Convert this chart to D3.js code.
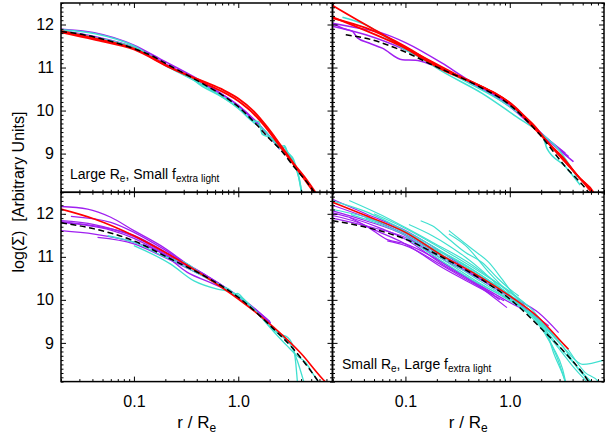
<!DOCTYPE html>
<html>
<head>
<meta charset="utf-8">
<script src="https://cdn.jsdelivr.net/npm/d3@7/dist/d3.min.js"></script>
<style>
  body { margin: 0; background: #fff; }
  svg { display: block; }
  text { font-family: "Liberation Sans", Arial, Helvetica, sans-serif; fill: #000; }
</style>
</head>
<body>
<svg id="chart" width="605" height="436"></svg>
<script>
// ---- Axis ticks and labels ----
const xMajor = [0.1, 1.0];
const xMajorLabels = ["0.1", "1.0"];
const xMinor = [0.02, 0.03, 0.04, 0.05, 0.06, 0.07, 0.08, 0.09,
                0.2, 0.3, 0.4, 0.5, 0.6, 0.7, 0.8, 0.9,
                2, 3, 4, 5, 6, 7, 8];
const yMajor = [9, 10, 11, 12];
const yMajorLabels = ["9", "10", "11", "12"];
const xDomain = [0.02, 8];
const yDomain = [8.1, 12.5];

// ---- Profiles: [r / Re, log(Sigma)] ----
// Top left: large Re, small extra-light fraction
const tlDashed = [[0.02,11.84],[0.03,11.78],[0.0417,11.71],[0.06,11.61],[0.1,11.44],[0.15,11.27],[0.2,11.10],[0.3,10.87],[0.5,10.57],[0.7,10.36],[1.0,10.09],[1.5,9.67],[2.0,9.34],[2.54,9.09],[3.4,8.70],[4.5,8.35],[5.29,8.12],[6.12,7.92]];
const tlRed = [
  [[0.02,11.82],[0.0417,11.65],[0.1,11.42],[0.225,10.99],[0.469,10.67],[0.729,10.47],[1.0,10.28],[1.41,9.98],[1.89,9.62],[2.54,9.20],[3.4,8.77],[4.56,8.38],[5.48,8.10],[6.0,7.95]],
  [[0.02,11.85],[0.0417,11.68],[0.1,11.44],[0.225,11.0],[0.469,10.64],[1.0,10.22],[1.41,9.92],[1.89,9.57],[2.54,9.15],[3.4,8.74],[5.48,8.05]]
];
const tlPurple = [
  [[0.02,11.89],[0.0417,11.81],[0.1,11.52],[0.181,11.19],[0.377,10.78],[0.63,10.45],[1.0,10.11],[1.63,9.62],[2.36,9.22]],
  [[0.02,11.86],[0.0417,11.72],[0.1,11.47],[0.225,11.02],[0.5,10.57],[1.0,10.12],[1.76,9.55],[2.5,9.10]]
];
const tlCyan = [
  [[0.02,11.88],[0.0417,11.79],[0.1,11.50],[0.181,11.12],[0.377,10.70],[0.469,10.54],[0.63,10.38],[1.0,10.07],[1.41,9.76],[1.57,9.74],[1.70,9.45],[1.89,9.40],[2.19,9.32],[2.54,9.17],[2.77,9.18],[2.94,9.05],[3.4,8.85],[3.8,8.46],[4.1,8.05]],
  [[0.02,11.86],[0.0417,11.70],[0.1,11.46],[0.225,10.98],[0.469,10.58],[1.0,10.05],[1.41,9.72],[1.57,9.65],[1.76,9.55],[2.19,9.28],[2.54,9.12],[2.77,9.14],[3.0,9.0],[3.4,8.80],[3.8,8.45],[4.1,8.0]]
];

// Top right
const trDashed = [[0.0268,11.76],[0.0417,11.68],[0.1,11.36],[0.181,11.06],[0.469,10.60],[1.0,10.13],[1.89,9.47],[3.4,8.70],[5.68,8.10],[6.5,7.9]];
const trRed = [
  [[0.02,12.44],[0.036,12.08],[0.0559,11.82],[0.1,11.45],[0.225,10.95],[0.469,10.62],[0.729,10.40],[1.13,10.08],[1.63,9.68],[2.19,9.32],[3.4,8.85],[4.56,8.46],[5.3,8.30],[6.12,8.12],[6.6,7.95]],
  [[0.02,12.15],[0.0417,11.92],[0.1,11.49],[0.225,10.97],[0.543,10.55],[0.844,10.30],[1.22,9.98],[1.76,9.62],[2.19,9.33],[3.4,8.82],[4.73,8.42],[6.34,8.10],[6.8,7.95]],
  [[0.02,12.17],[0.1,11.45],[0.3,10.85],[0.63,10.47],[1.0,10.18],[1.52,9.72],[2.19,9.32],[3.4,8.80],[5.0,8.35],[6.34,8.05]]
];
const trPurple = [
  [[0.02,12.03],[0.0311,11.94],[0.06,11.80],[0.1,11.58],[0.225,11.10],[0.377,10.75],[0.63,10.44],[1.0,10.13],[1.89,9.51],[3.4,9.01]],
  [[0.02,12.02],[0.0268,11.89],[0.0311,11.84],[0.0347,11.69],[0.0448,11.57],[0.06,11.45],[0.0934,11.18],[0.125,11.17],[0.181,11.06],[0.377,10.71],[1.0,10.09],[2.19,9.36],[4.08,8.81]],
  [[0.02,11.96],[0.0417,11.76],[0.1,11.41],[0.225,10.99],[0.543,10.52],[1.0,10.13],[2.36,9.32],[3.66,8.93]]
];
const trCyan = [
  [[0.0249,12.17],[0.0417,11.99],[0.06,11.76],[0.1,11.41],[0.181,11.10],[0.377,10.68],[1.0,10.09],[1.89,9.51],[2.11,9.36],[2.27,9.12],[3.4,8.70],[4.73,8.27]],
  [[0.1,11.45],[0.225,10.91],[0.543,10.40],[1.22,9.82],[1.89,9.51],[2.94,9.09],[4.4,8.46]]
];

// Bottom left
const blDashed = [[0.02,11.79],[0.0417,11.65],[0.1,11.37],[0.225,10.95],[0.469,10.56],[1.0,10.06],[2.19,9.32],[3.4,8.85],[5.68,8.15],[6.5,7.95]];
const blRed = [
  [[0.02,12.11],[0.0417,11.88],[0.1,11.49],[0.225,11.03],[0.469,10.56],[1.0,10.02],[2.19,9.36],[3.94,8.77],[6.8,8.10],[7.5,8.0]]
];
const blPurple = [
  [[0.02,12.17],[0.036,12.11],[0.06,11.92],[0.1,11.61],[0.181,11.26],[0.377,10.72],[1.0,10.09],[2.04,9.47]],
  [[0.0249,11.94],[0.06,11.80],[0.1,11.57],[0.181,11.22],[0.377,10.72],[1.0,10.06],[2.04,9.45]],
  [[0.02,11.84],[0.0417,11.75],[0.1,11.47],[0.225,11.0],[0.469,10.60],[1.0,10.08],[2.0,9.50]],
  [[0.02,11.80],[0.06,11.62],[0.1,11.43],[0.225,10.97],[0.469,10.58],[1.0,10.07],[1.9,9.52]],
  [[0.02,11.61],[0.0417,11.53],[0.1,11.34],[0.181,11.10],[0.325,10.64],[0.543,10.40],[1.0,10.09],[1.89,9.55]],
  [[0.0448,11.45],[0.1,11.30],[0.181,11.03],[0.377,10.66],[0.63,10.38],[1.0,10.06],[2.0,9.48]],
  [[0.02,11.82],[0.0417,11.72],[0.1,11.50],[0.225,11.04],[0.469,10.60],[1.0,10.07],[2.04,9.47]]
];
const blCyan = [
  [[0.0559,11.49],[0.1,11.34],[0.225,10.95],[0.302,10.88],[0.469,10.56],[0.729,10.30],[0.844,10.22],[0.9,10.12],[0.98,10.15],[1.13,10.02],[1.63,9.62],[2.19,9.30],[2.54,9.20],[3.0,9.12],[3.28,8.98],[3.53,8.60],[3.7,8.05]],
  [[0.1,11.26],[0.225,10.83],[0.377,10.44],[0.63,10.25],[0.844,10.19],[1.0,10.08],[1.52,9.70],[2.19,9.30],[2.77,9.10],[3.28,8.90],[3.66,8.60],[4.3,8.05]],
  [[0.181,11.06],[0.377,10.66],[0.729,10.28],[0.9,10.16],[1.0,10.10],[1.41,9.78],[2.19,9.26],[2.94,8.93],[3.66,8.70],[4.4,8.55],[5.3,8.25],[6.0,8.05]]
];

// Bottom right: small Re, large extra-light fraction
const brDashed = [[0.02,11.84],[0.0417,11.69],[0.1,11.41],[0.225,10.99],[0.469,10.56],[1.0,10.02],[2.19,9.24],[3.4,8.77],[5.68,8.10],[6.2,7.95]];
const brRed = [
  [[0.02,12.27],[0.0417,11.96],[0.1,11.57],[0.225,11.03],[0.469,10.60],[1.0,10.09],[1.89,9.59],[3.4,8.93],[3.66,8.85]]
];
const brPurple = [
  [[0.02,12.34],[0.0417,12.0],[0.1,11.61],[0.225,11.10],[0.543,10.48],[1.0,10.09],[1.89,9.70],[2.94,9.24]],
  [[0.02,12.07],[0.0417,11.84],[0.1,11.49],[0.225,10.87],[0.469,10.40],[1.0,9.94],[1.63,9.67],[2.36,9.40]],
  [[0.02,12.02],[0.0289,11.92],[0.06,11.65],[0.1,11.41],[0.225,10.83],[0.469,10.37],[0.94,9.82]],
  [[0.02,11.96],[0.0417,11.72],[0.067,11.40],[0.1,11.30],[0.225,10.87],[0.5,10.35],[0.8,10.0]],
  [[0.0289,11.92],[0.0482,11.65],[0.1,11.30],[0.225,10.75],[0.469,10.33],[0.88,9.98]],
  [[0.02,11.90],[0.0417,11.72],[0.1,11.45],[0.225,10.95],[0.5,10.50],[1.0,10.05],[2.0,9.50],[2.6,9.2]],
  [[0.067,11.37],[0.1,11.26],[0.225,10.80],[0.4,10.45],[0.7,10.12]],
  [[0.02,12.20],[0.0417,11.92],[0.1,11.52],[0.225,11.0],[0.469,10.55],[1.0,10.05],[1.63,9.70]]
];
const brCyan = [
  [[0.0289,12.31],[0.06,11.96],[0.1,11.68],[0.181,11.34],[0.377,10.91],[1.0,10.17],[1.63,9.78],[2.19,9.40],[3.4,8.93],[5.29,8.31],[7.08,8.1],[7.5,7.95]],
  [[0.108,11.75],[0.181,11.49],[0.261,11.26],[0.377,10.99],[0.543,10.68],[0.8,10.3],[1.0,10.1]],
  [[0.14,11.84],[0.181,11.72],[0.261,11.41],[0.377,11.10],[0.543,10.87],[0.784,10.48],[1.0,10.25],[1.22,10.09]],
  [[0.261,11.61],[0.436,11.18],[0.63,10.87],[0.844,10.48],[1.05,10.17],[1.4,9.85]],
  [[0.261,11.53],[0.377,11.26],[0.63,10.64],[0.784,10.40],[1.0,10.15]],
  [[0.02,12.30],[0.0417,12.05],[0.1,11.60],[0.225,11.12],[0.469,10.62],[1.0,10.12],[1.89,9.55],[2.19,9.35],[2.6,8.8],[3.4,8.1],[3.6,7.9]],
  [[0.02,12.10],[0.06,11.80],[0.1,11.55],[0.225,11.0],[0.469,10.50],[1.0,10.0],[1.89,9.5],[3.4,8.85],[4.5,8.55],[5.0,8.50],[8.0,8.60]],
  [[0.03,11.98],[0.1,11.50],[0.225,10.95],[0.469,10.45],[1.0,9.98],[1.63,9.65],[2.19,9.30],[3.4,8.75],[5.5,8.2],[7.0,7.95]],
  [[0.0417,11.90],[0.1,11.58],[0.225,11.05],[0.5,10.55],[1.0,10.05],[2.0,9.45],[3.16,8.95],[4.5,8.40],[6.5,8.0]],
  [[0.1,11.45],[0.225,10.90],[0.469,10.42],[0.7,10.2],[1.0,10.0],[1.6,9.65],[2.2,9.25],[3.0,8.85],[4.2,8.40],[6.0,8.0]],
  [[0.181,11.20],[0.377,10.80],[0.63,10.45],[1.0,10.10],[1.4,9.75],[2.19,9.20],[2.8,8.70],[3.4,8.1]],
  [[0.15,11.30],[0.3,10.95],[0.5,10.62],[1.0,10.1],[2.0,9.4],[2.6,8.9],[3.2,8.4],[3.5,8.0]],
  [[0.05,12.0],[0.1,11.66],[0.3,11.0],[0.6,10.55],[1.0,10.2],[1.5,9.85]]
];

// ---- Layout ----
const svg = d3.select("#chart");
const colX = [61, 332.5, 604];
const rowY = [3, 192.3, 381.6];
const colors = { red: "#ff0000", purple: "#a020f0", cyan: "#40e0d0" };

const panels = [
  { col: 0, row: 0, dashed: tlDashed, red: tlRed, purple: tlPurple, cyan: tlCyan, lw: 1.6 },
  { col: 1, row: 0, dashed: trDashed, red: trRed, purple: trPurple, cyan: trCyan, lw: 1.5 },
  { col: 0, row: 1, dashed: blDashed, red: blRed, purple: blPurple, cyan: blCyan, lw: 1.3 },
  { col: 1, row: 1, dashed: brDashed, red: brRed, purple: brPurple, cyan: brCyan, lw: 1.2 }
];

panels.forEach((p, i) => {
  const x0 = colX[p.col], x1 = colX[p.col + 1];
  const y0 = rowY[p.row], y1 = rowY[p.row + 1];
  const x = d3.scaleLog().domain(xDomain).range([x0, x1]);
  const y = d3.scaleLinear().domain(yDomain).range([y1, y0]);
  const line = d3.line().x(d => x(d[0])).y(d => y(d[1])).curve(d3.curveMonotoneX);

  svg.append("clipPath").attr("id", "clip" + i)
    .append("rect").attr("x", x0).attr("y", y0).attr("width", x1 - x0).attr("height", y1 - y0);
  const g = svg.append("g").attr("clip-path", `url(#clip${i})`);

  const drawSet = (set, color, w) => {
    g.selectAll(null).data(set).enter().append("path")
      .attr("d", line).attr("fill", "none")
      .attr("stroke", color).attr("stroke-width", w)
      .attr("stroke-linejoin", "round");
  };
  drawSet(p.purple, colors.purple, p.lw);
  drawSet(p.cyan, colors.cyan, p.lw);
  drawSet(p.red, colors.red, p.lw + 0.3);
  g.append("path").datum(p.dashed).attr("d", line).attr("fill", "none")
    .attr("stroke", "#000").attr("stroke-width", 1.5).attr("stroke-dasharray", "6,3.5");

  // Inward ticks on all four sides
  const addAxis = (axis, tx, ty) => {
    const a = svg.append("g").attr("transform", `translate(${tx},${ty})`).call(axis);
    a.select(".domain").remove();
    a.selectAll("line").attr("stroke", "#000").attr("stroke-width", 1);
  };
  addAxis(d3.axisBottom(x).tickValues(xMajor).tickSize(-5).tickFormat(""), 0, y1);
  addAxis(d3.axisBottom(x).tickValues(xMinor).tickSize(-2.5).tickFormat(""), 0, y1);
  addAxis(d3.axisTop(x).tickValues(xMajor).tickSize(-5).tickFormat(""), 0, y0);
  addAxis(d3.axisTop(x).tickValues(xMinor).tickSize(-2.5).tickFormat(""), 0, y0);
  const yMinor = d3.range(81, 126).map(v => v / 10).filter(v => !yMajor.includes(v));
  addAxis(d3.axisLeft(y).tickValues(yMajor).tickSize(-5).tickFormat(""), x0, 0);
  addAxis(d3.axisLeft(y).tickValues(yMinor).tickSize(-2.5).tickFormat(""), x0, 0);
  addAxis(d3.axisRight(y).tickValues(yMajor).tickSize(-5).tickFormat(""), x1, 0);
  addAxis(d3.axisRight(y).tickValues(yMinor).tickSize(-2.5).tickFormat(""), x1, 0);

  // Frame
  svg.append("rect").attr("x", x0).attr("y", y0).attr("width", x1 - x0).attr("height", y1 - y0)
    .attr("fill", "none").attr("stroke", "#000").attr("stroke-width", 1.5);

  // Tick labels
  if (p.col === 0) {
    const a = svg.append("g").attr("transform", `translate(${x0},0)`)
      .call(d3.axisLeft(y).tickValues(yMajor).tickSize(0).tickPadding(7)
        .tickFormat((d, k) => yMajorLabels[k]));
    a.select(".domain").remove();
    a.selectAll("text").style("font-size", "16px")
      .style("font-family", '"Liberation Sans", Arial, sans-serif').attr("fill", "#000");
  }
  if (p.row === 1) {
    const a = svg.append("g").attr("transform", `translate(0,${y1})`)
      .call(d3.axisBottom(x).tickValues(xMajor).tickSize(0).tickPadding(14)
        .tickFormat((d, k) => xMajorLabels[k]));
    a.select(".domain").remove();
    a.selectAll("text").style("font-size", "16px")
      .style("font-family", '"Liberation Sans", Arial, sans-serif').attr("fill", "#000");

    const t = svg.append("text").attr("x", (x0 + x1) / 2).attr("y", 428)
      .attr("text-anchor", "middle").style("font-size", "17px");
    t.append("tspan").text("r / R");
    t.append("tspan").attr("dy", 4).style("font-size", "12px").text("e");
  }
});

// Panel annotations
function annotate(xp, yp, big, small) {
  const t = svg.append("text").attr("x", xp).attr("y", yp).style("font-size", "14px");
  t.append("tspan").text(big[0]);
  t.append("tspan").attr("dy", 3).style("font-size", "10px").text("e");
  t.append("tspan").attr("dy", -3).text(big[1]);
  t.append("tspan").attr("dy", 3).style("font-size", "10px").text(small);
}
annotate(70, 179, ["Large R", ", Small f"], "extra light");
annotate(342, 369, ["Small R", ", Large f"], "extra light");

// Y axis title
svg.append("text")
  .attr("transform", "translate(24,192) rotate(-90)")
  .attr("text-anchor", "middle")
  .style("font-size", "16px")
  .style("white-space", "pre")
  .text("log(\u03a3)  [Arbitrary Units]");
</script>
</body>
</html>
